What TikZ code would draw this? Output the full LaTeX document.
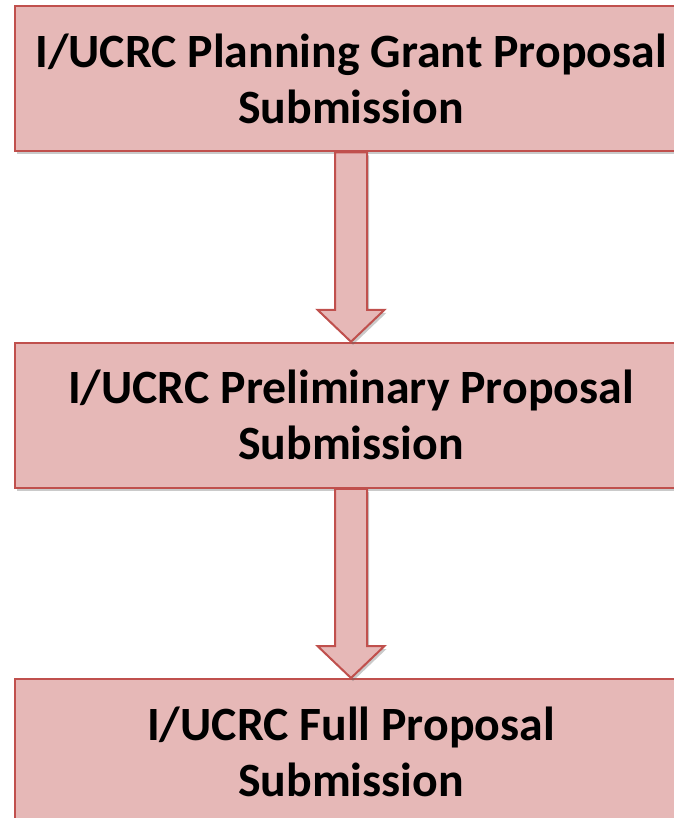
\documentclass[tikz,border=0pt]{standalone}
\usepackage{fontspec}
\setmainfont{Carlito}
\usetikzlibrary{shadows,calc}
\definecolor{boxfill}{HTML}{E6B8B7}
\definecolor{boxline}{HTML}{C0504D}
\tikzset{
  stage/.style={draw=boxline, fill=boxfill, line width=2pt, minimum width=672pt, minimum height=145pt,
    align=center, inner sep=0pt, font=\fontsize{47.8}{56}\selectfont\bfseries,
    drop shadow={shadow xshift=2pt, shadow yshift=-3pt, opacity=0.35, fill=black!60}},
  flowarrow/.style={draw=boxline, fill=boxfill, line width=2pt, line join=miter,
    drop shadow={shadow xshift=2pt, shadow yshift=-3pt, opacity=0.35, fill=black!60}}
}
\begin{document}
\begin{tikzpicture}[x=1pt,y=1pt]
\useasboundingbox (0,0) rectangle (673,-818);
\node[stage] (b1) at (351,-79) {I/UCRC Planning Grant Proposal\\Submission};
\node[stage] (b2) at (351,-415.25) {I/UCRC Preliminary Proposal\\Submission};
\node[stage] (b3) at (351,-751.5) {I/UCRC Full Proposal\\Submission};
\path[flowarrow] ($(b1.south)+(-16,0)$) -- ($(b2.north)+(-16,32)$) -- ($(b2.north)+(-33.5,32)$)
  -- (b2.north) -- ($(b2.north)+(33.5,32)$) -- ($(b2.north)+(16,32)$) -- ($(b1.south)+(16,0)$) -- cycle;
\path[flowarrow] ($(b2.south)+(-16,0)$) -- ($(b3.north)+(-16,32)$) -- ($(b3.north)+(-33.5,32)$)
  -- (b3.north) -- ($(b3.north)+(33.5,32)$) -- ($(b3.north)+(16,32)$) -- ($(b2.south)+(16,0)$) -- cycle;
\end{tikzpicture}
\end{document}
